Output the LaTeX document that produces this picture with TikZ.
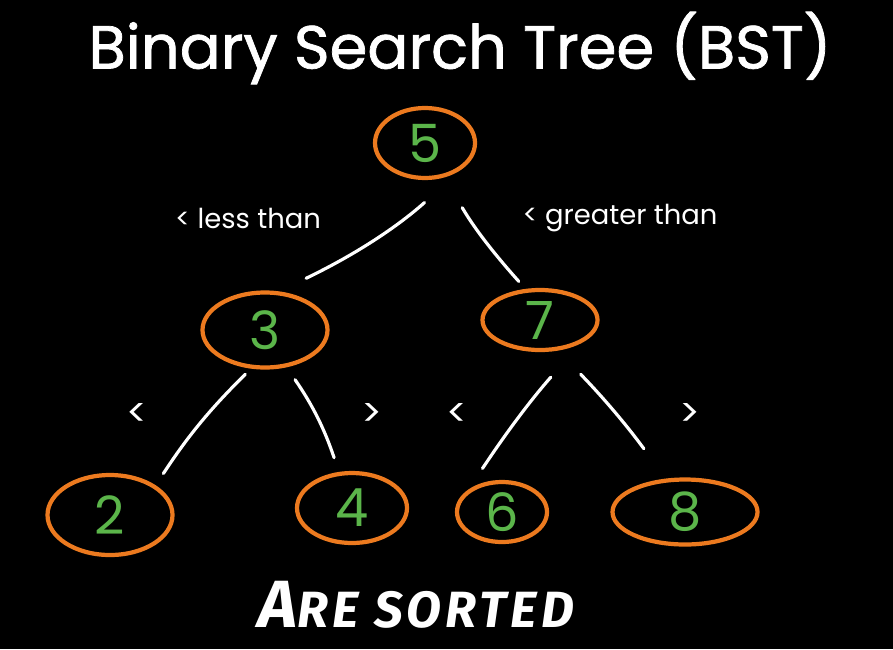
\documentclass[tikz,border=0pt]{standalone}
\usepackage{fontspec}
\setmainfont{Poppins}
\newfontfamily\titlefont{Poppins}[FakeBold=1.2]
\newfontfamily\notefont{Fira Sans}[LetterSpace=8]
\usetikzlibrary{shapes.geometric}
\definecolor{bstorange}{HTML}{EC7A1F}
\definecolor{bstgreen}{HTML}{5BB54A}

\begin{document}
\begin{tikzpicture}[every node/.style={text=white},
    bstnode/.style={draw=bstorange, ellipse, line width=1.2pt, inner sep=0pt, text=bstgreen, font=\fontsize{15}{15}\selectfont},
    link/.style={draw=white, line width=0.9pt, line cap=round},
    cmp/.style={font=\fontsize{11}{13}\selectfont}]
  \fill[black] (0,0) rectangle (8.93,6.49);
  \useasboundingbox (0,0) rectangle (8.93,6.49);

  % title
  \node[font=\titlefont\fontsize{17.3}{20}\selectfont] (title) at (4.60, 6.01) {Binary Search Tree (BST)};

  % tree nodes
  \node[bstnode, minimum width=1.0cm, minimum height=0.70cm] (n5) at (4.25, 5.06) {5};
  \node[bstnode, minimum width=1.25cm, minimum height=0.75cm] (n3) at (2.65, 3.19) {3};
  \node[bstnode, minimum width=1.15cm, minimum height=0.60cm] (n7) at (5.40, 3.29) {7};
  \node[bstnode, minimum width=1.25cm, minimum height=0.80cm] (n2) at (1.10, 1.34) {2};
  \node[bstnode, minimum width=1.10cm, minimum height=0.70cm] (n4) at (3.52, 1.41) {4};
  \node[bstnode, minimum width=0.90cm, minimum height=0.60cm] (n6) at (5.02, 1.37) {6};
  \node[bstnode, minimum width=1.45cm, minimum height=0.65cm] (n8) at (6.85, 1.37) {8};

  % links
  \draw[link, shorten <=0.5cm, shorten >=0.3cm] (n5.south east) to[bend left=8] (n3.70);
  \draw[link, shorten <=0.35cm, shorten >=0.1cm] (n5.300) to[bend right=6] (n7.115);
  \draw[link, shorten <=0.08cm, shorten >=0.14cm] (n3.250) to[bend right=6] (n2.north east);
  \draw[link, shorten <=0.15cm, shorten >=0.15cm] (n3.300) to[bend left=8] (n4.110);
  \draw[link, shorten <=0.45cm, shorten >=0.25cm] (n7.330) to[bend right=4] (n6.north west);
  \draw[link, shorten <=0.33cm, shorten >=0.37cm] (n7.300) to[bend left=4] (n8.120);

  % labels
  \node[font=\fontsize{7.8}{9}\selectfont] (lessl) at (2.48, 4.31) {< less than};
  \node[font=\fontsize{7.8}{9}\selectfont] (greaterl) at (6.20, 4.31) {< greater than};
  \node[cmp] (lt3) at (1.37, 2.34) {<};
  \node[cmp] (gt3) at (3.72, 2.34) {>};
  \node[cmp] (lt7) at (4.57, 2.34) {<};
  \node[cmp] (gt7) at (6.90, 2.34) {>};

  \node[font=\notefont\bfseries\itshape\fontsize{14.5}{16}\selectfont] (sorted) at (4.16, 0.44) {{\fontsize{19}{19}\selectfont A}RE SORTED};
\end{tikzpicture}
\end{document}
